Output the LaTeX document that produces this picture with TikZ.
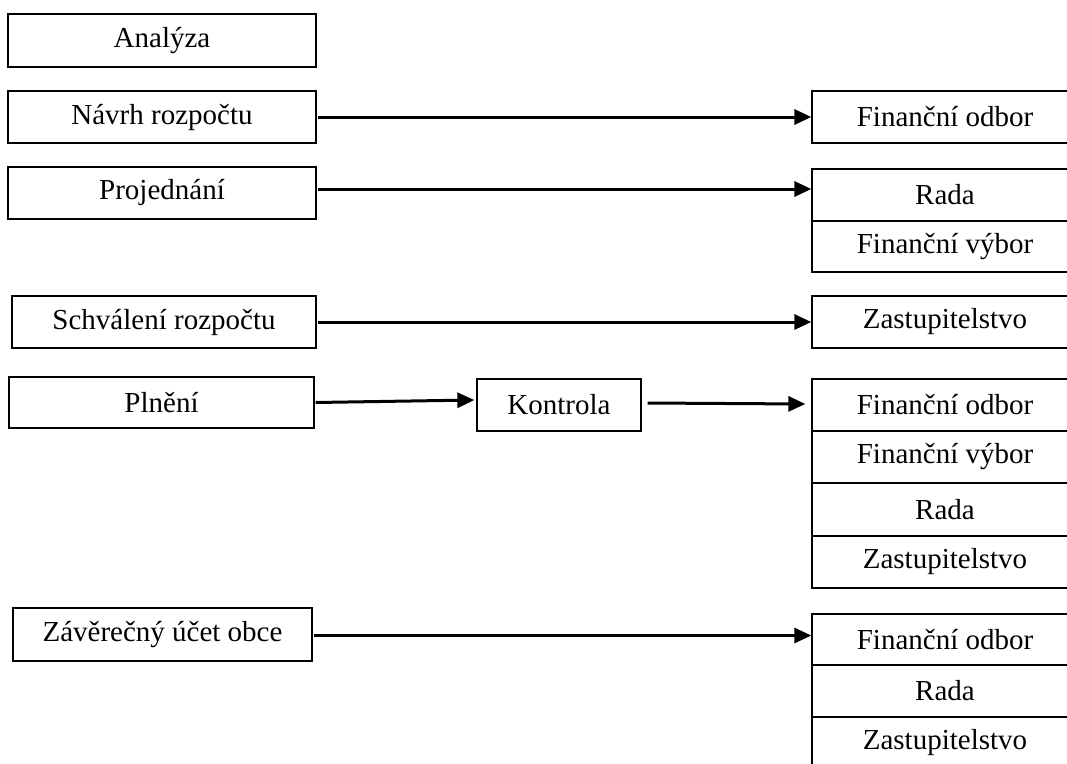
\documentclass[tikz,border=0pt]{standalone}
\usepackage{fontspec}
\setmainfont{Liberation Serif}
\usetikzlibrary{arrows.meta}
\begin{document}
\begin{tikzpicture}[x=1pt,y=-1pt,
  box/.style={draw, line width=1.3pt, inner sep=0pt, font=\fontsize{29}{34}\selectfont},
  lbox/.style={box, minimum width=308pt, minimum height=52pt},
  rbox/.style={box, minimum width=266pt, minimum height=52pt},
  arr/.style={line width=3pt, -{Triangle[length=17pt,width=15pt]}}]
\clip (0,0) rectangle (1067,763);
% left column
\node[lbox, minimum height=53pt] (ana) at (162,40.5) {Analýza};
\node[lbox] (nav) at (162,117) {Návrh rozpočtu};
\node[lbox] (proj) at (162,193) {Projednání};
\node[lbox, minimum width=304pt] (sch) at (164,322) {Schválení rozpočtu};
\node[lbox, minimum width=305pt, minimum height=51pt] (pln) at (161.5,402.5) {Plnění};
\node[box, minimum width=164pt, minimum height=52pt] (kon) at (559,405) {Kontrola};
\node[lbox, minimum width=299pt, minimum height=53pt] (zav) at (162.5,634.5) {Závěrečný účet obce};
% right column
\node[rbox] (fo1) at (945,117) {Finanční odbor};
\node[rbox] (rada1) at (945,195) {Rada};
\node[rbox, minimum height=51pt] (fv1) at (945,246.5) {Finanční výbor};
\node[rbox] (zas1) at (945,322) {Zastupitelstvo};
\node[rbox] (fo2) at (945,405) {Finanční odbor};
\node[rbox] (fv2) at (945,457) {Finanční výbor};
\node[rbox, minimum height=53pt] (rada2) at (945,509.5) {Rada};
\node[rbox] (zas2) at (945,562) {Zastupitelstvo};
\node[rbox, minimum height=51pt] (fo3) at (945,639.5) {Finanční odbor};
\node[rbox] (rada3) at (945,691) {Rada};
\node[rbox] (zas3) at (945,743) {Zastupitelstvo};
% arrows
\draw[arr] ([xshift=1pt]nav.east) -- (fo1.west);
\draw[arr] ([xshift=1pt,yshift=4pt]proj.east) -- ([yshift=4pt]proj.east -| rada1.west);
\draw[arr] ([xshift=1pt]sch.east) -- (zas1.west);
\draw[arr] ([xshift=1pt]pln.east) -- ([xshift=-2pt,yshift=5pt]kon.west);
\draw[arr] ([xshift=6pt,yshift=2pt]kon.east) -- ([xshift=-6pt,yshift=1pt]kon.east -| fo2.west);
\draw[arr] ([xshift=1pt,yshift=-1pt]zav.east) -- ([yshift=-1pt]zav.east -| fo3.west);
\end{tikzpicture}
\end{document}
